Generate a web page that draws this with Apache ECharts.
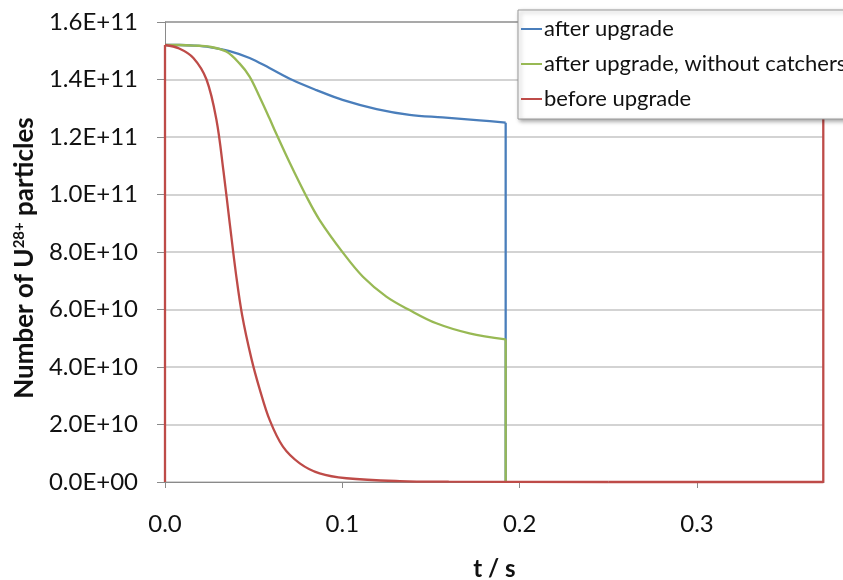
<!DOCTYPE html>
<html>
<head>
<meta charset="utf-8">
<script src="https://cdn.jsdelivr.net/npm/echarts@6/dist/echarts.min.js"></script>
<style>html,body{margin:0;padding:0;background:#fff}#c{width:843px;height:580px}</style>
</head>
<body>
<div id="c"></div>
<script>
// values of N are in units of 1e10 particles, t in seconds
var UNIT = 1e10;
var seriesNames = ['after upgrade', 'after upgrade, without catchers', 'before upgrade'];

// smooth decay parts
var blueT = [0, 0.0082, 0.0166, 0.0251, 0.0364, 0.0477, 0.0589, 0.0719, 0.0854, 0.1001, 0.1193, 0.1379, 0.1565, 0.1774, 0.1921];
var blueN = [15.2, 15.2, 15.18, 15.13, 14.99, 14.75, 14.40, 13.98, 13.63, 13.29, 12.97, 12.77, 12.68, 12.58, 12.50];
// vertical drop at end of cycle
var blueDropT = [0.1921, 0.1921];
var blueDropN = [12.50, 0];

var greenT = [0, 0.0082, 0.0166, 0.0251, 0.0345, 0.042, 0.0477, 0.0533, 0.0589, 0.0627, 0.0702, 0.0796, 0.0871, 0.1003, 0.1116, 0.1248, 0.1379, 0.153, 0.1717, 0.1921];
var greenN = [15.2, 15.2, 15.18, 15.14, 14.97, 14.56, 14.10, 13.40, 12.65, 12.12, 11.12, 9.95, 9.12, 7.98, 7.14, 6.45, 5.98, 5.52, 5.17, 4.96];
var greenDropT = [0.1921, 0.1921];
var greenDropN = [4.96, 0];

var redRiseT = [0, 0];
var redRiseN = [0, 15.2];
var redT = [0, 0.008, 0.016, 0.0234, 0.029, 0.033, 0.0365, 0.040, 0.0435, 0.0487, 0.0533, 0.059, 0.0665, 0.076, 0.0872, 0.1023, 0.1324, 0.16, 0.25];
var redN = [15.2, 15.08, 14.75, 14.0, 12.6, 10.8, 9.0, 7.25, 5.8, 4.3, 3.25, 2.16, 1.23, 0.65, 0.30, 0.13, 0.03, 0.01, 0];
var redTailT = [0.25, 0.3712, 0.3712];
var redTailN = [0, 0, 15.2];

var xTicks = [0.0, 0.1, 0.2, 0.3];

function pairs(t, n) { return t.map(function (v, i) { return [v, n[i] * UNIT]; }); }
function sciLabel(v) {
  var s = v.toExponential(1).toUpperCase();
  var m = s.match(/^(-?[\d.]+)E([+-])(\d+)$/);
  var e = m[3].length < 2 ? '0' + m[3] : m[3];
  return m[1] + 'E' + m[2] + e;
}

var FONT = 'Lato';
var COLORS = ['#4a7ebb', '#98b954', '#be4b48'];
function lineSeries(name, data, color, z, smooth) {
  return { name: name, type: 'line', data: data, symbol: 'none', clip: false, z: z,
    smooth: smooth ? 0.35 : false,
    lineStyle: { color: color, width: 2.3 }, itemStyle: { color: color } };
}

var chart = echarts.init(document.getElementById('c'));
chart.setOption({
  backgroundColor: '#ffffff',
  animation: false,
  textStyle: { fontFamily: FONT },
  grid: { left: 165, right: 19, top: 22, bottom: 98, containLabel: false, outerBoundsMode: 'none' },
  legend: {
    orient: 'vertical',
    left: 518, top: 10,
    z: 20,
    padding: [8, 30, 9, 3],
    itemGap: 13,
    itemWidth: 21,
    itemHeight: 2,
    icon: 'rect',
    backgroundColor: '#ffffff',
    borderColor: '#9a9a9a',
    borderWidth: 1,
    shadowBlur: 4,
    shadowColor: 'rgba(0,0,0,0.35)',
    shadowOffsetX: 2,
    shadowOffsetY: 2,
    textStyle: { fontFamily: FONT, fontSize: 22, color: '#111', padding: [0, 0, 0, -3] },
    data: seriesNames
  },
  xAxis: {
    type: 'value',
    min: 0, max: 0.3716, interval: 0.1,
    name: 't / s',
    nameLocation: 'middle',
    nameGap: 75,
    nameTextStyle: { fontFamily: FONT, fontSize: 24, fontWeight: 'bold', color: '#111' },
    axisLine: { lineStyle: { color: '#8a8a8a', width: 1 } },
    axisTick: { show: true, inside: false, length: 6, lineStyle: { color: '#8a8a8a' } },
    axisLabel: {
      showMaxLabel: false,
      margin: 30,
      fontFamily: FONT, fontSize: 24, color: '#111',
      formatter: function (v) { return xTicks.indexOf(Math.round(v * 10) / 10) >= 0 && Math.abs(v * 10 - Math.round(v * 10)) < 1e-6 ? v.toFixed(1) : ''; }
    },
    splitLine: { show: false }
  },
  yAxis: {
    type: 'value',
    min: 0, max: 16 * UNIT, interval: 2 * UNIT,
    name: 'Number of U{sup|28+} particles',
    nameLocation: 'middle',
    nameGap: 112,
    nameTextStyle: {
      fontFamily: FONT, fontSize: 26, fontWeight: 'bold', color: '#111',
      padding: [0, 12, 0, 0],
      rich: { sup: { fontFamily: FONT, fontSize: 15, fontWeight: 'bold', color: '#111', verticalAlign: 'top', padding: [0, 0, 10, 0] } }
    },
    axisLine: { show: true, lineStyle: { color: '#8a8a8a', width: 1 } },
    axisTick: { show: true, inside: false, length: 8, lineStyle: { color: '#8a8a8a' } },
    axisLabel: { margin: 27, fontFamily: FONT, fontSize: 24, color: '#111', formatter: sciLabel },
    splitLine: { show: true, lineStyle: { color: ['#c4c4c4', '#c4c4c4', '#c4c4c4', '#c4c4c4', '#c4c4c4', '#c4c4c4', '#c4c4c4', '#c4c4c4', '#8c8c8c'], width: 1.5 } }
  },
  series: [
    lineSeries(seriesNames[0], pairs(blueT, blueN), COLORS[0], 3, true),
    lineSeries('blue drop', pairs(blueDropT, blueDropN), COLORS[0], 3, false),
    lineSeries(seriesNames[1], pairs(greenT, greenN), COLORS[1], 4, true),
    lineSeries('green drop', pairs(greenDropT, greenDropN), COLORS[1], 4, false),
    lineSeries(seriesNames[2], pairs(redT, redN), COLORS[2], 5, true),
    lineSeries('red rise', pairs(redRiseT, redRiseN), COLORS[2], 5, false),
    lineSeries('red tail', pairs(redTailT, redTailN), COLORS[2], 5, false)
  ]
});
</script>
</body>
</html>
